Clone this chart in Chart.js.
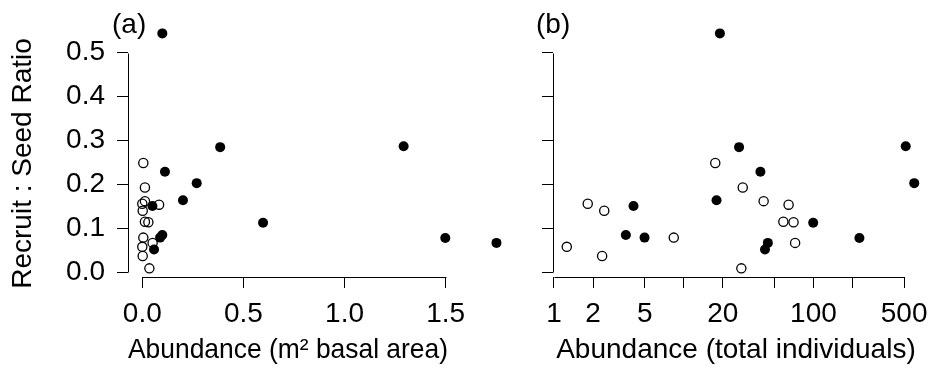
<!DOCTYPE html>
<html>
<head>
<meta charset="utf-8">
<script src="https://cdn.jsdelivr.net/npm/chart.js@4.4.1/dist/chart.umd.min.js"></script>
<style>
  html, body { margin: 0; padding: 0; background: #fff; }
  #wrap { position: relative; width: 937px; height: 377px; }
  #wrap canvas { position: absolute; left: 0; top: 0; }
</style>
</head>
<body>
<div id="wrap">
  <canvas id="basalChart" width="937" height="377"></canvas>
  <canvas id="indivChart" width="937" height="377"></canvas>
</div>
<script>
// recruit : seed ratio per species, filled = one group, open = the other
const filledRatio = [0.544, 0.285, 0.287, 0.229, 0.203, 0.164, 0.151, 0.113, 0.078, 0.085, 0.079, 0.052, 0.067];
const filledBasal = [0.099, 0.385, 1.292, 0.112, 0.269, 0.201, 0.050, 0.597, 1.498, 0.099, 0.088, 0.058, 1.751];
const filledIndiv = [19.0, 26.7, 514, 39.0, 598, 17.9, 4.1, 99.5, 226, 3.58, 4.99, 42.3, 44.5];

const openRatio = [0.249, 0.193, 0.162, 0.154, 0.156, 0.140, 0.115, 0.114, 0.079, 0.067, 0.058, 0.037, 0.009];
const openBasal = [0.005, 0.013, 0.013, 0.083, 0.000, 0.002, 0.013, 0.030, 0.005, 0.051, 0.000, 0.002, 0.035];
const openIndiv = [17.5, 28.5, 41.3, 64.3, 1.82, 2.44, 58.6, 70.2, 8.38, 72.2, 1.255, 2.35, 27.8];

const ratioTicks = [0, 0.1, 0.2, 0.3, 0.4, 0.5];
const basalTicks = [0, 0.5, 1.0, 1.5];
const indivTicks = [1, 2, 5, 10, 20, 50, 100, 200, 500];
const indivLabels = [1, 2, 5, 20, 100, 500];

const FONT = { family: "'Liberation Sans', Arial, Helvetica, sans-serif", size: 28 };

function pts(xs, ys) {
  return xs.map((x, i) => ({ x: x, y: ys[i] }));
}

// R-style axis line spanning first..last tick only
const axisLines = {
  id: 'axisLines',
  afterDraw(chart) {
    const { ctx, chartArea, scales } = chart;
    ctx.save();
    ctx.strokeStyle = '#000';
    ctx.lineWidth = 1;
    const xs = scales.x, ys = scales.y;
    const xa = xs.getPixelForValue(xs.ticks[0].value);
    const xb = xs.getPixelForValue(xs.ticks[xs.ticks.length - 1].value);
    const yb = Math.round(chartArea.bottom) + 0.5;
    ctx.beginPath();
    ctx.moveTo(Math.round(xa) + 0.5, yb);
    ctx.lineTo(Math.round(xb) + 0.5, yb);
    const xl = Math.round(chartArea.left) + 0.5;
    ctx.moveTo(xl, Math.round(ys.getPixelForValue(ys.ticks[0].value)) + 0.5);
    ctx.lineTo(xl, Math.round(ys.getPixelForValue(ys.ticks[ys.ticks.length - 1].value)) + 0.5);
    ctx.stroke();
    ctx.restore();
  }
};

// let points that fall outside the plot region still be drawn (like xpd in R)
const looseArea = {
  id: 'looseArea',
  beforeDatasetsDraw(chart) {
    chart._savedArea = chart.chartArea;
    chart.chartArea = { left: 0, top: 0, right: chart.width, bottom: chart.height, width: chart.width, height: chart.height };
  },
  afterDatasetsDraw(chart) {
    chart.chartArea = chart._savedArea;
  }
};

const panelLabel = {
  id: 'panelLabel',
  afterDraw(chart, args, opts) {
    const ctx = chart.ctx;
    ctx.save();
    ctx.font = FONT.size + 'px ' + FONT.family;
    ctx.fillStyle = '#000';
    ctx.textAlign = 'left';
    ctx.textBaseline = 'middle';
    ctx.fillText(opts.text, opts.x, opts.y);
    ctx.restore();
  }
};

function tickGrid() {
  return { drawOnChartArea: false, drawTicks: true, tickLength: 11, color: '#000', lineWidth: 1 };
}

function makeChart(id, cfg) {
  return new Chart(document.getElementById(id).getContext('2d'), {
    type: 'scatter',
    data: {
      datasets: [
        { data: cfg.filled, pointRadius: 5, pointBackgroundColor: '#000', pointBorderColor: '#000', pointBorderWidth: 0, clip: false },
        { data: cfg.open, pointRadius: 4.6, pointBackgroundColor: 'rgba(0,0,0,0)', pointBorderColor: '#000', pointBorderWidth: 1.3, clip: false }
      ]
    },
    options: {
      responsive: false,
      animation: false,
      events: [],
      layout: { padding: cfg.padding },
      plugins: {
        legend: { display: false },
        tooltip: { enabled: false },
        panelLabel: cfg.label
      },
      scales: {
        x: cfg.x,
        y: {
          type: 'linear',
          min: -0.0107,
          max: 0.5062,
          border: { display: false },
          grid: tickGrid(),
          ticks: {
            display: cfg.yLabels,
            color: '#000',
            font: FONT,
            padding: 12,
            autoSkip: false,
            callback: v => v.toFixed(1)
          },
          title: { display: cfg.yLabels, text: 'Recruit : Seed Ratio', color: '#000', font: FONT, padding: { top: 6, bottom: 0 } },
          afterBuildTicks: s => { s.ticks = ratioTicks.map(v => ({ value: v })); },
          afterFit: s => { s.width = cfg.yWidth; }
        }
      }
    },
    plugins: [looseArea, axisLines, panelLabel]
  });
}

makeChart('basalChart', {
  filled: pts(filledBasal, filledRatio),
  open: pts(openBasal, openRatio),
  padding: { left: 0, right: 489, top: 50, bottom: 0 },
  yLabels: true,
  yWidth: 128,
  label: { text: '(a)', x: 112, y: 25 },
  x: {
    type: 'linear',
    min: -0.0707,
    max: 1.5114,
    border: { display: false },
    grid: tickGrid(),
    ticks: { color: '#000', font: FONT, padding: 9, autoSkip: false, maxRotation: 0, callback: v => v.toFixed(1) },
    title: { display: true, text: 'Abundance (m\u00B2 basal area)', color: '#000', font: FONT, padding: { top: 0, bottom: 10 } },
    afterBuildTicks: s => { s.ticks = basalTicks.map(v => ({ value: v })); },
    afterFit: s => { s.height = 100; }
  }
});

makeChart('indivChart', {
  filled: pts(filledIndiv, filledRatio),
  open: pts(openIndiv, openRatio),
  padding: { left: 533, right: 12, top: 50, bottom: 0 },
  yLabels: false,
  yWidth: 20,
  label: { text: '(b)', x: 536, y: 25 },
  x: {
    type: 'logarithmic',
    min: 0.9827,
    max: 649.4,
    border: { display: false },
    grid: tickGrid(),
    ticks: { color: '#000', font: FONT, padding: 9, autoSkip: false, maxRotation: 0, minRotation: 0,
             callback: v => indivLabels.includes(v) ? String(v) : '' },
    title: { display: true, text: 'Abundance (total individuals)', color: '#000', font: FONT, padding: { top: 0, bottom: 10 } },
    afterBuildTicks: s => { s.ticks = indivTicks.map(v => ({ value: v })); },
    afterFit: s => { s.width; s.height = 100; }
  }
});
</script>
</body>
</html>
